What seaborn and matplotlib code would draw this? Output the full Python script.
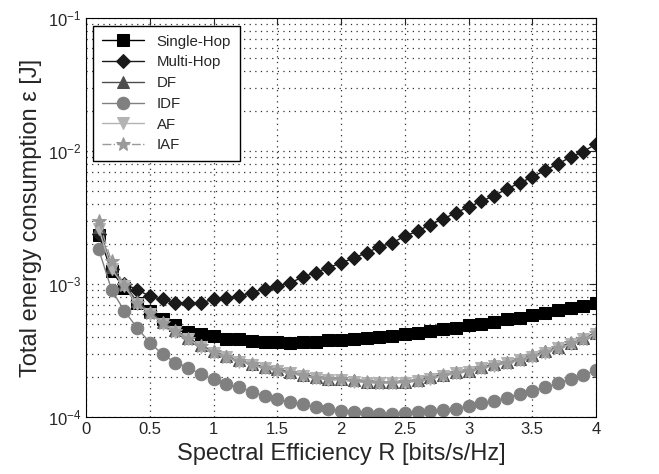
import numpy as np
import pandas as pd
import matplotlib
matplotlib.use("Agg")
import matplotlib.pyplot as plt
import seaborn as sns

# spectral efficiency R = 0.1 ... 4.0
rate = [0.1, 0.2, 0.3, 0.4, 0.5, 0.6, 0.7, 0.8, 0.9, 1.0,
        1.1, 1.2, 1.3, 1.4, 1.5, 1.6, 1.7, 1.8, 1.9, 2.0,
        2.1, 2.2, 2.3, 2.4, 2.5, 2.6, 2.7, 2.8, 2.9, 3.0,
        3.1, 3.2, 3.3, 3.4, 3.5, 3.6, 3.7, 3.8, 3.9, 4.0]

single_hop = [2.35e-3, 1.25e-3, 9.4e-4, 7.2e-4, 6.27e-4, 5.42e-4, 4.9e-4, 4.4e-4, 4.19e-4, 4.07e-4,
              3.89e-4, 3.84e-4, 3.73e-4, 3.66e-4, 3.64e-4, 3.63e-4, 3.66e-4, 3.67e-4, 3.8e-4, 3.8e-4,
              3.89e-4, 3.95e-4, 4.0e-4, 4.07e-4, 4.19e-4, 4.31e-4, 4.44e-4, 4.62e-4, 4.7e-4, 4.89e-4,
              4.98e-4, 5.18e-4, 5.42e-4, 5.58e-4, 5.81e-4, 6.08e-4, 6.36e-4, 6.64e-4, 6.83e-4, 7.24e-4]

multi_hop = [2.4e-3, 1.3e-3, 1.0e-3, 9.1e-4, 8.1e-4, 7.67e-4, 7.24e-4, 7.16e-4, 7.24e-4, 7.67e-4,
             7.8e-4, 8.1e-4, 8.6e-4, 9.23e-4, 9.65e-4, 1.02e-3, 1.13e-3, 1.22e-3, 1.33e-3, 1.44e-3,
             1.57e-3, 1.72e-3, 1.9e-3, 2.04e-3, 2.29e-3, 2.5e-3, 2.8e-3, 3.09e-3, 3.43e-3, 3.8e-3,
             4.19e-3, 4.62e-3, 5.19e-3, 5.75e-3, 6.38e-3, 7.16e-3, 8.0e-3, 9.0e-3, 9.9e-3, 1.13e-2]

df_scheme = [2.7e-3, 1.35e-3, 1.0e-3, 7.4e-4, 6.2e-4, 5.2e-4, 4.5e-4, 3.95e-4, 3.47e-4, 3.13e-4,
             2.88e-4, 2.67e-4, 2.52e-4, 2.39e-4, 2.29e-4, 2.19e-4, 2.09e-4, 2.01e-4, 1.95e-4, 1.94e-4,
             1.89e-4, 1.85e-4, 1.84e-4, 1.84e-4, 1.85e-4, 1.9e-4, 2.0e-4, 2.08e-4, 2.18e-4, 2.24e-4,
             2.39e-4, 2.49e-4, 2.6e-4, 2.74e-4, 2.91e-4, 3.12e-4, 3.36e-4, 3.62e-4, 3.93e-4, 4.32e-4]

idf = [1.82e-3, 9.1e-4, 6.3e-4, 4.7e-4, 3.63e-4, 2.97e-4, 2.57e-4, 2.36e-4, 2.1e-4, 1.92e-4,
       1.77e-4, 1.67e-4, 1.55e-4, 1.44e-4, 1.36e-4, 1.3e-4, 1.25e-4, 1.19e-4, 1.15e-4, 1.11e-4,
       1.1e-4, 1.08e-4, 1.06e-4, 1.06e-4, 1.08e-4, 1.09e-4, 1.11e-4, 1.13e-4, 1.16e-4, 1.22e-4,
       1.28e-4, 1.33e-4, 1.4e-4, 1.49e-4, 1.58e-4, 1.67e-4, 1.8e-4, 1.92e-4, 2.06e-4, 2.26e-4]

af = [2.6e-3, 1.3e-3, 9.6e-4, 7.1e-4, 6.0e-4, 5.05e-4, 4.38e-4, 3.85e-4, 3.38e-4, 3.05e-4,
      2.82e-4, 2.61e-4, 2.46e-4, 2.33e-4, 2.23e-4, 2.13e-4, 2.04e-4, 1.96e-4, 1.9e-4, 1.89e-4,
      1.85e-4, 1.81e-4, 1.8e-4, 1.8e-4, 1.81e-4, 1.86e-4, 1.95e-4, 2.03e-4, 2.13e-4, 2.19e-4,
      2.33e-4, 2.43e-4, 2.54e-4, 2.68e-4, 2.85e-4, 3.06e-4, 3.28e-4, 3.54e-4, 3.85e-4, 4.22e-4]

iaf = [2.97e-3, 1.48e-3, 9.8e-4, 7.2e-4, 6.1e-4, 5.13e-4, 4.44e-4, 3.89e-4, 3.42e-4, 3.09e-4,
       2.85e-4, 2.64e-4, 2.49e-4, 2.36e-4, 2.26e-4, 2.16e-4, 2.06e-4, 1.98e-4, 1.92e-4, 1.92e-4,
       1.87e-4, 1.83e-4, 1.82e-4, 1.82e-4, 1.83e-4, 1.88e-4, 1.98e-4, 2.06e-4, 2.16e-4, 2.21e-4,
       2.36e-4, 2.46e-4, 2.57e-4, 2.71e-4, 2.88e-4, 3.09e-4, 3.32e-4, 3.58e-4, 3.89e-4, 4.27e-4]

series = {
    "Single-Hop": single_hop,
    "Multi-Hop": multi_hop,
    "DF": df_scheme,
    "IDF": idf,
    "AF": af,
    "IAF": iaf,
}

styles = {
    "Single-Hop": dict(color="#000000", marker="s", ls="-", ms=8),
    "Multi-Hop": dict(color="#1a1a1a", marker="D", ls="-", ms=7.5),
    "DF": dict(color="#4d4d4d", marker="^", ls="-", ms=8),
    "IDF": dict(color="#808080", marker="o", ls="-", ms=9),
    "AF": dict(color="#b3b3b3", marker="v", ls="-", ms=9),
    "IAF": dict(color="#9a9a9a", marker="*", ls="-.", ms=10),
}

sns.set_style("white")
plt.rcParams["font.family"] = ["Liberation Sans", "DejaVu Sans"]
plt.rcParams["mathtext.fontset"] = "custom"
plt.rcParams["mathtext.rm"] = "Liberation Sans"

fig = plt.figure(figsize=(6.59, 4.74), dpi=100)
ax = fig.add_axes([0.1305, 0.12, 0.774, 0.842])

for name, vals in series.items():
    st = styles[name]
    sns.lineplot(x=rate, y=vals, ax=ax, label=name, color=st["color"],
                 marker=st["marker"], linestyle=st["ls"], markersize=st["ms"],
                 markeredgecolor=st["color"], linewidth=1.0)

ax.set_yscale("log")
ax.set_xlim(0, 4)
ax.set_ylim(1e-4, 1e-1)
ax.set_xticks(np.arange(0, 4.01, 0.5))
ax.set_xticklabels(["0", "0.5", "1", "1.5", "2", "2.5", "3", "3.5", "4"])

# matlab-like sparse dotted grid
ax.grid(True, which="major", axis="both", color="#333333", linestyle=(0, (1, 3.5)), linewidth=0.9)
ax.grid(True, which="minor", axis="y", color="#333333", linestyle=(0, (1, 3.5)), linewidth=0.9)
ax.tick_params(which="both", direction="in", top=True, right=True, labelsize=12)
ax.tick_params(which="major", length=5)
ax.tick_params(which="minor", length=3)
for sp in ax.spines.values():
    sp.set_color("black")
    sp.set_linewidth(0.8)

ax.set_xlabel("Spectral Efficiency R [bits/s/Hz]", fontsize=17)
ax.set_ylabel("Total energy consumption ε [J]", fontsize=17)

leg = ax.legend(loc="upper left", fontsize=10.8, frameon=True, fancybox=False,
                edgecolor="black", borderaxespad=0.5, handlelength=2.8,
                labelspacing=0.45, borderpad=0.6, framealpha=1)
leg.get_frame().set_linewidth(1.0)

fig.savefig("out.png", dpi=100)
